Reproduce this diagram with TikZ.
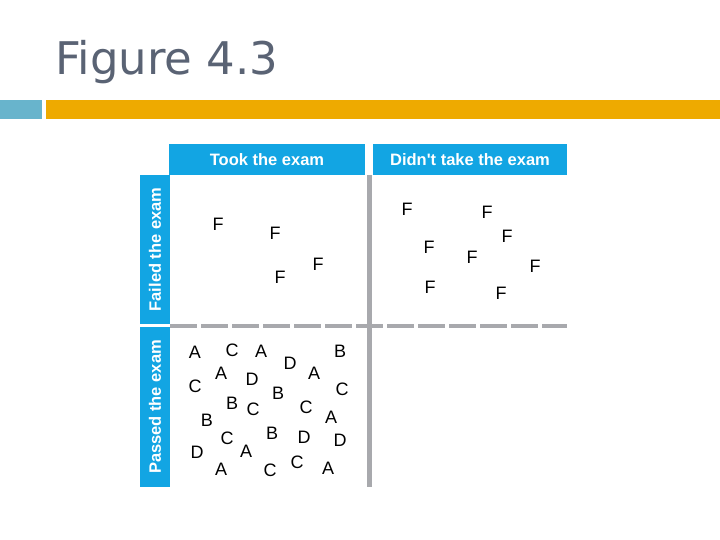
\documentclass[tikz,border=0pt]{standalone}
\usepackage{fontspec}
\setmainfont{Liberation Sans}
\newfontfamily\titlefont{DejaVu Sans}
\definecolor{headblue}{HTML}{12A5E3}
\definecolor{titlegray}{HTML}{5A6374}
\definecolor{barteal}{HTML}{68B4CC}
\definecolor{barorange}{HTML}{EEAA00}
\definecolor{linegray}{HTML}{A8A9AD}

\begin{document}
\begin{tikzpicture}[x=1pt, y=-1pt,
    headbox/.style={fill=headblue, inner sep=0pt, text=white,
        font=\fontsize{16.5}{18}\selectfont\bfseries},
    grade/.style={inner sep=0pt, font=\fontsize{18}{19}\selectfont}]
    \useasboundingbox (0,0) rectangle (720,540);

    % Slide title and bars
    \node[anchor=base west, inner sep=0pt, text=titlegray,
        font=\titlefont\fontsize{45}{48}\selectfont] (title) at (55,75) {Figure 4.3};
    \fill[barteal] (0,100) rectangle (42,119);
    \fill[barorange] (46,100) rectangle (720,119);

    % Column and row headings
    \node[headbox, minimum width=196pt, minimum height=31pt] (took) at (267,159.5) {Took the exam};
    \node[headbox, minimum width=194pt, minimum height=31pt] (didnt) at (470,159.5) {Didn\textquotesingle t take the exam};
    \node[headbox, rotate=90, minimum width=149pt, minimum height=30pt] (failed) at (155,249.5) {Failed the exam};
    \node[headbox, rotate=90, minimum width=160pt, minimum height=30pt] (passed) at (155,407) {Passed the exam};

    % Grid lines
    \draw[linegray, line width=3.5pt, dash pattern=on 27pt off 4pt] (170,326) -- (567,326);
    \draw[linegray, line width=5pt] (369,175) -- (369,487);

    % Took the exam, failed
    \foreach \x/\y [count=\i] in {218/224, 275/233, 318/264, 280/277}
        \node[grade] (tf\i) at (\x,\y) {F};

    % Didn't take the exam
    \foreach \x/\y [count=\i] in {407/209, 487/212, 507/236, 429/247,
        472/257, 535/266, 430/287, 501/293}
        \node[grade] (df\i) at (\x,\y) {F};

    % Took the exam, passed
    \foreach \x/\y/\g [count=\i] in {195/352/A, 232/350/C, 261/351/A, 340/351/B,
        290/363/D, 221/373/A, 314/373/A, 252/379/D, 195/386/C, 342/389/C,
        278/393/B, 232/403/B, 253/409/C, 306/407/C, 331/417/A, 207/420/B,
        272/433/B, 227/438/C, 304/437/D, 340/440/D, 197/452/D, 246/451/A,
        297/462/C, 221/469/A, 270/470/C, 328/468/A}
        \node[grade] (tp\i) at (\x,\y) {\g};
\end{tikzpicture}
\end{document}
